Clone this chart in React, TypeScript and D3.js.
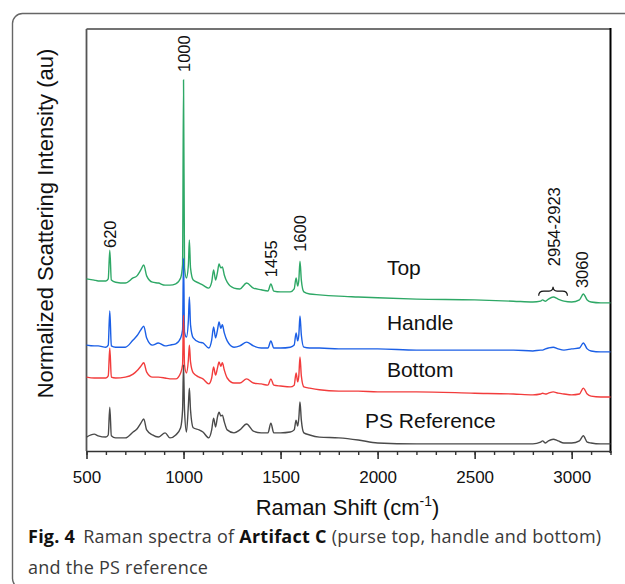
import { useEffect, useRef } from "react";
import * as d3 from "d3";

// Raman shift sample positions (cm-1), shared by all spectra
const SHIFT = [
  500, 540, 560, 600, 612, 620, 628, 650, 700, 740, 760, 780, 795, 810, 840, 870, 905, 930, 960, 985,
  995, 1000, 1005, 1015, 1025, 1030, 1036, 1050, 1080, 1100, 1130, 1145, 1155, 1165, 1175, 1183, 1192, 1200, 1210, 1225,
  1260, 1290, 1325, 1360, 1400, 1435, 1450, 1465, 1500, 1550, 1570, 1580, 1588, 1594, 1600, 1607, 1620, 1650, 1700, 1800,
  1900, 2000, 2200, 2500, 2700, 2800, 2840, 2850, 2865, 2880, 2905, 2930, 2960, 3000, 3040, 3060, 3080, 3100, 3150, 3200,
];

// stacked, normalized intensities (au)
const TOP = [
  40.8, 40.5, 40.3, 40.3, 40.8, 47.6, 40.5, 40.0, 39.8, 41.0, 41.5, 42.9, 44.1, 41.5, 40.0, 39.8, 39.3, 39.3, 39.6, 41.0,
  44.1, 87.9, 43.4, 41.0, 44.1, 50.0, 43.4, 40.5, 39.8, 39.3, 38.6, 40.0, 42.9, 40.5, 42.4, 44.3, 43.4, 43.6, 41.7, 40.0,
  38.6, 38.4, 39.8, 38.6, 38.2, 37.9, 39.6, 37.9, 37.7, 37.7, 38.4, 41.0, 39.1, 40.5, 45.0, 40.5, 37.7, 37.2, 37.0, 36.7,
  36.5, 36.3, 36.0, 35.8, 35.5, 35.3, 35.5, 35.8, 35.5, 36.0, 36.5, 36.0, 35.5, 35.3, 35.8, 37.2, 35.8, 35.3, 35.1, 35.1,
];
const HANDLE = [
  25.1, 24.9, 24.9, 24.6, 25.1, 33.2, 24.9, 24.6, 24.6, 26.3, 27.3, 28.7, 29.6, 26.8, 25.1, 25.6, 24.9, 25.1, 25.4, 26.8,
  28.7, 45.7, 28.2, 27.0, 31.0, 36.5, 29.9, 26.8, 25.8, 25.6, 24.4, 26.3, 29.4, 26.8, 28.7, 30.6, 29.1, 29.9, 28.0, 26.1,
  24.6, 24.9, 25.8, 24.9, 24.4, 24.4, 26.1, 24.4, 24.4, 24.6, 25.1, 28.0, 26.1, 27.5, 32.0, 27.5, 24.6, 24.4, 24.4, 24.2,
  24.2, 24.2, 23.9, 23.9, 23.9, 23.7, 23.9, 23.9, 24.2, 24.4, 24.6, 24.2, 23.9, 24.2, 24.4, 25.6, 24.2, 23.7, 23.5, 23.5,
];
const BOTTOM = [
  17.5, 17.3, 17.3, 17.3, 17.8, 24.4, 17.5, 17.3, 17.5, 18.2, 19.0, 20.1, 20.9, 18.7, 17.5, 17.5, 17.3, 17.1, 17.1, 18.5,
  20.4, 32.2, 20.4, 18.5, 21.6, 25.1, 21.1, 18.5, 17.5, 17.1, 15.9, 17.3, 19.9, 18.0, 19.7, 21.1, 20.1, 20.9, 19.2, 17.3,
  16.1, 16.1, 17.1, 16.1, 15.9, 15.6, 17.1, 15.6, 15.4, 15.2, 15.6, 18.5, 16.4, 17.8, 22.3, 17.8, 15.2, 14.9, 14.5, 14.2,
  14.2, 14.0, 14.0, 13.7, 13.5, 13.3, 13.5, 13.7, 13.5, 13.7, 14.0, 13.7, 13.5, 13.3, 13.5, 14.9, 13.5, 13.0, 12.8, 12.8,
];
const PS_REF = [
  3.3, 4.0, 3.6, 3.3, 3.8, 10.4, 3.6, 3.1, 3.1, 4.5, 5.2, 6.6, 7.6, 5.0, 3.8, 3.3, 4.3, 3.1, 3.8, 5.5,
  9.7, 20.4, 9.7, 4.5, 10.9, 14.9, 9.7, 5.5, 5.0, 4.5, 3.1, 5.0, 7.8, 5.7, 8.1, 9.2, 8.3, 8.5, 6.9, 5.0,
  4.3, 5.0, 6.4, 4.7, 4.3, 4.3, 6.6, 4.3, 4.3, 4.5, 5.0, 7.3, 5.9, 7.8, 11.6, 7.3, 4.3, 3.8, 3.3, 3.1,
  2.6, 1.9, 1.7, 1.7, 1.7, 1.7, 2.1, 2.4, 1.9, 2.4, 2.8, 2.4, 1.9, 1.9, 2.4, 3.6, 2.1, 1.9, 1.7, 1.7,
];

const SERIES_NAMES = ["Top", "Handle", "Bottom", "PS Reference"];
const SERIES_VALUES = [TOP, HANDLE, BOTTOM, PS_REF];
const SERIES_COLORS = ["#2ea866", "#1b5fe6", "#f23c3c", "#4a4a4a"];

// peak annotations
const PEAK_TEXT = ["620", "1000", "1455", "1600", "2954-2923", "3060"];
const PEAK_SHIFT = [620, 1000, 1450, 1600, 2908, 3052];
const PEAK_LEVEL = [48.1, 89.8, 41.2, 47.2, 43.8, 38.6];
const BRACE_RANGE = [2830, 2978];

const X_TICKS = [500, 1000, 1500, 2000, 2500, 3000];

const WIDTH = 625;
const HEIGHT = 584;
const PLOT = { left: 86.5, right: 610.5, top: 29, bottom: 451 };
const LABEL_FONT = "'Liberation Sans', Arial, sans-serif";
const CAPTION_FONT = "'Open Sans', sans-serif";

export default function App() {
  const axisRef = useRef<SVGGElement>(null);

  const xScale = d3.scaleLinear().domain([500, 3200]).range([PLOT.left, PLOT.right]);
  const yScale = d3.scaleLinear().domain([0, 100]).range([PLOT.bottom, PLOT.top]);

  useEffect(() => {
    const g = d3.select(axisRef.current);
    g.selectAll("*").remove();
    // minor ticks every 100
    const minor = g
      .append("g")
      .attr("transform", `translate(0,${PLOT.bottom})`)
      .call(d3.axisBottom(xScale).tickValues(d3.range(500, 3201, 100)).tickSize(4).tickFormat(() => ""));
    minor.select(".domain").remove();
    minor.selectAll("line").attr("stroke", "#333").attr("stroke-width", 1.4);

    const major = g
      .append("g")
      .attr("transform", `translate(0,${PLOT.bottom})`)
      .call(
        d3
          .axisBottom(xScale)
          .tickValues(X_TICKS)
          .tickSize(8)
          .tickSizeOuter(0)
          .tickPadding(12)
          .tickFormat(d3.format("d"))
      );
    major.select(".domain").attr("stroke", "#333").attr("stroke-width", 1.6);
    major.selectAll("line").attr("stroke", "#333").attr("stroke-width", 1.6);
    major
      .selectAll("text")
      .attr("font-family", LABEL_FONT)
      .attr("font-size", 17)
      .attr("fill", "#111");
  }, []);

  const line = d3
    .line<number>()
    .x((_, i) => xScale(SHIFT[i]))
    .y((d) => yScale(d))
    .curve(d3.curveMonotoneX);

  // brace over the 2954-2923 doublet
  const bx0 = xScale(BRACE_RANGE[0]);
  const bx1 = xScale(BRACE_RANGE[1]);
  const bxm = (bx0 + bx1) / 2;
  const byb = yScale(36.8);
  const bym = yScale(37.9);
  const byt = yScale(38.9);
  const bracePath = `M${bx0},${byb} Q${bx0},${bym} ${bx0 + 5},${bym} L${bxm - 4},${bym} Q${bxm},${bym} ${bxm},${byt} Q${bxm},${bym} ${bxm + 4},${bym} L${bx1 - 5},${bym} Q${bx1},${bym} ${bx1},${byb}`;

  const nameShift = [2048, 2048, 2048, 1935];
  const nameLevel = [41.7, 28.7, 17.5, 5.5];

  return (
    <svg width={WIDTH} height={HEIGHT} style={{ position: "absolute", left: 0, top: 0, background: "#fff" }}>
      <rect x={12.5} y={13.5} width={700} height={575} rx={10} fill="none" stroke="#666" strokeWidth={1.4} />

      {/* plot frame */}
      <line x1={PLOT.left} x2={PLOT.right} y1={PLOT.top} y2={PLOT.top} stroke="#444" strokeWidth={1.6} />
      <line x1={PLOT.left} x2={PLOT.left} y1={PLOT.top} y2={PLOT.bottom} stroke="#555" strokeWidth={1.8} />
      <line x1={PLOT.right} x2={PLOT.right} y1={PLOT.top - 1} y2={PLOT.bottom + 2} stroke="#000" strokeWidth={2} />

      {/* spectra */}
      {SERIES_VALUES.map((vals, i) => (
        <path key={SERIES_NAMES[i]} d={line(vals) || ""} fill="none" stroke={SERIES_COLORS[i]} strokeWidth={1.4} />
      ))}

      {/* series names */}
      {SERIES_NAMES.map((name, i) => (
        <text
          key={name}
          x={xScale(nameShift[i])}
          y={yScale(nameLevel[i])}
          fontFamily={LABEL_FONT}
          fontSize={21}
          fill="#111"
        >
          {name}
        </text>
      ))}

      {/* peak labels */}
      {PEAK_TEXT.map((t, i) => {
        const x = xScale(PEAK_SHIFT[i]);
        const y = yScale(PEAK_LEVEL[i]);
        return (
          <text
            key={t}
            transform={`translate(${x},${y}) rotate(-90)`}
            dominantBaseline="central"
            fontFamily={LABEL_FONT}
            fontSize={16.5}
            fill="#111"
          >
            {t}
          </text>
        );
      })}
      <path d={bracePath} fill="none" stroke="#111" strokeWidth={1.2} />

      <g ref={axisRef} />

      {/* axis titles */}
      <text
        transform={`translate(53,223.5) rotate(-90)`}
        textAnchor="middle"
        fontFamily={LABEL_FONT}
        fontSize={22}
        fill="#111"
      >
        Normalized Scattering Intensity (au)
      </text>
      <text x={347.5} y={515} textAnchor="middle" fontFamily={LABEL_FONT} fontSize={22} fill="#111">
        Raman Shift (cm
        <tspan fontSize={14} dy={-9}>-1</tspan>
        <tspan dy={9}>)</tspan>
      </text>

      {/* caption */}
      <text x={28} y={543} fontFamily={CAPTION_FONT} fontSize={18} letterSpacing={0.25} fill="#3a3a3a">
        <tspan fontWeight="bold" fill="#111">Fig. 4</tspan>
        <tspan dx={8}>Raman spectra of </tspan>
        <tspan fontWeight="bold" fill="#111">Artifact C</tspan>
        <tspan> (purse top, handle and bottom)</tspan>
      </text>
      <text x={28} y={574} fontFamily={CAPTION_FONT} fontSize={18} letterSpacing={0.25} fill="#3a3a3a">
        and the PS reference
      </text>
    </svg>
  );
}
